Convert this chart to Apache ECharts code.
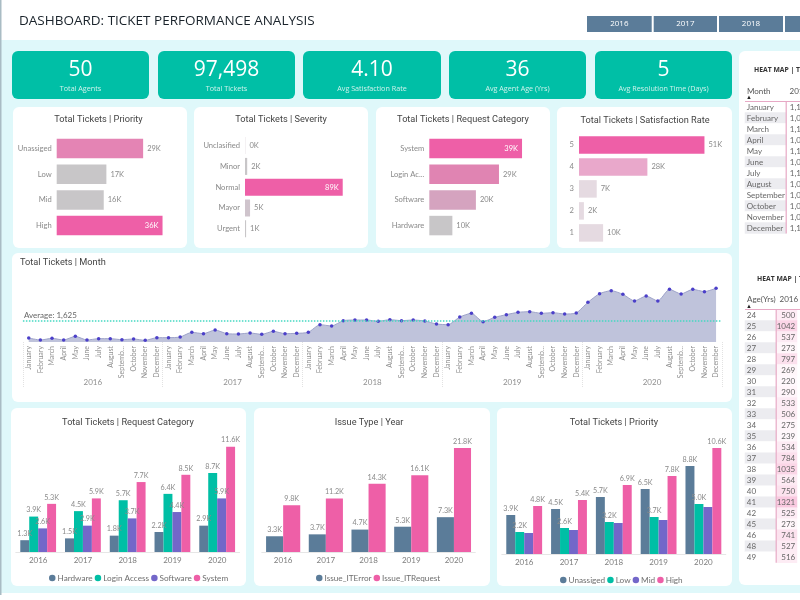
<!DOCTYPE html>
<html>
<head>
<meta charset="utf-8">
<style>html,body{margin:0;padding:0;background:#fff;overflow:hidden}#c{width:800px;height:600px}</style>
<script src="https://cdn.jsdelivr.net/npm/echarts@6/dist/echarts.min.js"></script>
</head>
<body>
<div id="c"></div>
<script>
// ---- data ----
const years = ['2016','2017','2018','2019','2020'];
const kpiValues = ['50','97,498','4.10','36','5'];
const kpiLabels = ['Total Agents','Total Tickets','Avg Satisfaction Rate','Avg Agent Age (Yrs)','Avg Resolution Time (Days)'];

const priorityCats = ['Unassiged','Low','Mid','High'];
const priorityVals = [29.4,16.9,16.0,36.0];
const severityCats = ['Unclasified','Minor','Normal','Mayor','Urgent'];
const severityVals = [0.4,2.0,89.0,4.6,1.0];
const requestCats = ['System','Login Ac...','Software','Hardware'];
const requestVals = [39.0,29.3,19.6,9.7];
const satisfactionCats = ['5','4','3','2','1'];
const satisfactionVals = [51.0,27.8,7.2,2.0,9.8];

const monthNames = ['January','February','March','April','May','June','July','August','Septemb...','October','November','December'];
const monthlyTickets = [
 1087,1023,1076,1023,1140,1023,1066,1066,1034,1055,1013,1097,
 1097,1118,1266,1224,1340,1224,1213,1245,1203,1298,1224,1235,
 1266,1509,1467,1636,1657,1657,1615,1668,1636,1657,1625,1530,
 1509,1752,1868,1604,1741,1826,1900,1921,1868,1889,1847,1879,
 2217,2491,2586,2470,2259,2417,2259,2628,2481,2628,2555,2660];
const averageTickets = 1625;

const reqHardware = [1.3,1.5,1.8,2.2,2.9];
const reqLogin = [3.9,4.5,5.7,6.4,8.7];
const reqSoftware = [2.6,2.9,3.7,4.4,5.9];
const reqSystem = [5.3,5.9,7.7,8.5,11.6];
const issueError = [3.3,3.7,4.7,5.3,7.3];
const issueRequest = [9.8,11.2,14.3,16.1,21.8];
const priUnassigned = [3.9,4.5,5.7,6.5,8.8];
const priLow = [2.2,2.6,3.2,3.7,5.0];
const priMid = [2.1,2.4,3.1,3.4,4.7];
const priHigh = [4.8,5.4,6.9,7.8,10.6];

const heatMonths = ['January','February','March','April','May','June','July','August','September','October','November','December'];
const heatMonthCells = ['1,1','1,0','1,1','1,0','1,1','1,0','1,1','1,0','1,0','1,0','1,0','1,1'];
const heatAges = ['24','25','26','27','28','29','30','31','32','33','34','35','36','37','38','39','40','41','42','45','46','48','49'];
const heatAgeVals = [500,1042,537,273,797,269,220,290,533,506,275,239,534,784,1035,564,750,1321,525,273,741,527,516];

// ---- style ----
const PINK='#EE5FA7', BLUE='#5B7C99', GREEN='#00BFA5', PURPLE='#7367C9', GREY='#C8C6C8';
const TITLE_FONT='Roboto', BODY_FONT='"Open Sans"', SMALL_FONT='Lato';
const priorityColors=['#E484B4',GREY,GREY,PINK];
const severityColors=['#E6E0E4',GREY,PINK,'#CFC4CC',GREY];
const requestColors=[PINK,'#E084B2','#D5A3BF',GREY];
const satisfactionColors=[PINK,'#E9A8CB','#E5DAE1','#E5DAE1','#E5DAE1'];

const grid=[], xAxis=[], yAxis=[], series=[], legend=[], visualMap=[], graphic=[];

function rect(x,y,w,h,fill,r,z){graphic.push({type:'rect',silent:true,z:z||0,shape:{x,y,width:w,height:h,r:r||0},style:{fill}});}
function text(t,x,y,size,fill,o){o=o||{};graphic.push({type:'text',silent:true,z:20,x,y,style:{text:t,fill,textAlign:o.align||'center',textVerticalAlign:'middle',font:(o.weight||'normal')+' '+size+'px '+(o.family||BODY_FONT)}});}
function addAxes(gridOpt,xOpt,yOpt){
  const g=grid.length; grid.push(gridOpt);
  const x=xAxis.length; xAxis.push(Object.assign({gridIndex:g},xOpt));
  const y=yAxis.length; yAxis.push(Object.assign({gridIndex:g},yOpt));
  return {g,x,y};
}

// page
rect(0,0,800,40,'#ffffff');
rect(0,593,800,7,'#ffffff');
rect(0,0,1.5,595,'#A9BCC4',0,1);
text('DASHBOARD: TICKET PERFORMANCE ANALYSIS',19,21,13.5,'#1a232b',{align:'left'});
[[587,64.7,'2016'],[653.7,63.3,'2017'],[719,64,'2018'],[785,20,'']].forEach(b=>{
  rect(b[0],16,b[1],16,BLUE);
  if(b[2]) text(b[2],b[0]+b[1]/2,24,8,'#ffffff');
});

// KPI cards
[[12,137],[158,137],[303,138],[449,137],[595,137]].forEach((c,i)=>{
  rect(c[0],51,c[1],48,'#00BFA6',6);
  text(kpiValues[i],c[0]+c[1]/2,70,21,'#ffffff');
  text(kpiLabels[i],c[0]+c[1]/2,88.5,7.2,'#CFF3EC');
});

// white cards
[[13,107,174,141],[194,107,174,141],[376,107,174,141],[557,107,175,141],[12,253,720,149],[11,408,235,178],[254,408,236,178],[497,408,235,178]].forEach(c=>rect(c[0],c[1],c[2],c[3],'#ffffff',6));
rect(739,51,70,534,'#ffffff',6);

// horizontal bar panels
function hbar(title,tx,ty,cats,vals,colors,left,top,width,height,max,barW,insideTop){
  text(title,tx,ty,9.2,'#444444',{family:TITLE_FONT});
  const a=addAxes({left,top,width,height},{type:'value',min:0,max,show:false},
    {type:'category',inverse:true,data:cats,axisLine:{show:false},axisTick:{show:false},
    axisLabel:{color:'#8a8a8a',fontSize:7.6,fontFamily:SMALL_FONT,margin:5}});
  const top1=Math.max.apply(null,vals);
  series.push({type:'bar',xAxisIndex:a.x,yAxisIndex:a.y,barWidth:barW,
    data:vals.map((v,i)=>({value:v,itemStyle:{color:colors[i]},
      label:(insideTop&&v===top1)?{show:true,position:'insideRight',distance:4,color:'#ffffff',fontSize:7.5,fontFamily:SMALL_FONT,formatter:p=>Math.round(p.value)+'K'}
        :{show:true,position:'right',distance:4,color:'#8a8a8a',fontSize:7.5,fontFamily:SMALL_FONT,formatter:p=>Math.round(p.value)+'K'}}))});
}
hbar('Total Tickets | Priority',98.5,119.5,priorityCats,priorityVals,priorityColors,56.7,135.7,117.6,102.7,40,19.5,true);
hbar('Total Tickets | Severity',281,119.5,severityCats,severityVals,severityColors,245,135.2,109.8,104,100,17,true);
hbar('Total Tickets | Request Category',463,119.5,requestCats,requestVals,requestColors,429.3,135.7,107,102.7,45,19.5,true);
hbar('Total Tickets | Satisfaction Rate',645,121,satisfactionCats,satisfactionVals,satisfactionColors,579,133.9,135.3,110,55,17.5,false);

// monthly area chart
text('Total Tickets | Month',20,263,9.2,'#444444',{family:TITLE_FONT,align:'left'});
(function(){
  const a=addAxes({left:22.9,top:282,width:699,height:60},
    {type:'category',position:'bottom',
    data:years.flatMap(()=>monthNames),
    axisLine:{show:false},axisTick:{show:false},
    axisLabel:{interval:0,rotate:90,color:'#8f8f8f',fontSize:7,fontFamily:SMALL_FONT,margin:4}},
    {type:'value',min:960,max:2860,show:false});
  xAxis.push({gridIndex:a.g,type:'category',position:'bottom',data:years,
    axisLine:{show:false},
    axisTick:{show:true,length:46,lineStyle:{color:'#e2e2e2',type:'dotted',width:1}},
    axisLabel:{color:'#8f8f8f',fontSize:8,fontFamily:SMALL_FONT,margin:36}});
  series.push({type:'line',xAxisIndex:a.x,yAxisIndex:a.y,data:monthlyTickets,smooth:0.2,
    symbol:'circle',symbolSize:3.5,itemStyle:{color:'#4B3FC9'},lineStyle:{color:'#9EA3C9',width:1},
    areaStyle:{color:'#BFC3DB',opacity:1},
    markLine:{silent:true,symbol:'none',data:[{yAxis:averageTickets}],
      lineStyle:{color:'#45D9C2',type:'dotted',width:1.5},
      label:{position:'insideStartTop',distance:[1,2],formatter:'Average: 1,625',color:'#666666',fontSize:8,fontFamily:SMALL_FONT}}});
})();

// grouped column panels
function columns(title,tx,left,width,top,bottomY,max,names,arrays,colors,legendLeft,legendTop,hideLabels){
  text(title,tx,423,9.2,'#444444',{family:TITLE_FONT});
  const a=addAxes({left,top,width,height:bottomY-top},
    {type:'category',data:years,axisLine:{lineStyle:{color:'#e6e6e6'}},axisTick:{show:false},
    splitLine:{show:false},
    axisLabel:{color:'#7d7d7d',fontSize:8,fontFamily:SMALL_FONT,margin:4}},
    {type:'value',min:0,max,show:false});
  names.forEach((n,i)=>series.push({type:'bar',name:n,xAxisIndex:a.x,yAxisIndex:a.y,data:arrays[i],
    barGap:0,barCategoryGap:'20%',itemStyle:{color:colors[i]},
    label:{show:!(hideLabels&&hideLabels[i]),position:'top',distance:3,color:'#8a8a8a',fontSize:7.2,fontFamily:SMALL_FONT,formatter:p=>p.value.toFixed(1)+'K'}}));
  legend.push({left:legendLeft,top:legendTop,data:names,icon:'circle',itemWidth:6.5,itemHeight:6.5,itemGap:2,
    textStyle:{color:'#6f6f6f',fontSize:8.2,fontFamily:SMALL_FONT,padding:[0,0,0,-3]},selectedMode:false});
}
columns('Total Tickets | Request Category',128,15.8,223.75,443,552,12,
  ['Hardware','Login Access','Software','System'],[reqHardware,reqLogin,reqSoftware,reqSystem],[BLUE,GREEN,PURPLE,PINK],44,569);
columns('Issue Type | Year',369,261.8,213.5,437.5,552,24,
  ['Issue_ITError','Issue_ITRequest'],[issueError,issueRequest],[BLUE,PINK],311,569);
columns('Total Tickets | Priority',614,501.8,224,434,554,12,
  ['Unassiged','Low','Mid','High'],[priUnassigned,priLow,priMid,priHigh],[BLUE,GREEN,PURPLE,PINK],555,571,[false,false,true,false]);

// heat tables
function heatTable(title,titleX,titleY,header,valueHeader,headerY,rows,cellLabels,cellVals,top,rowH,splitX,valW){
  text(title,titleX,titleY,6.8,'#333333',{align:'left',weight:'bold'});
  text(header,747,headerY,8,'#555555',{align:'left',family:SMALL_FONT});
  text(valueHeader,splitX+3.5,headerY,8,'#555555',{align:'left',family:SMALL_FONT});
  text('\u25B2',749,headerY+6.5,6,'#222222',{align:'center'});
  const h=rowH*rows.length;
  // label column
  let a=addAxes({left:745,top,width:splitX-745,height:h},
    {type:'category',data:[header],show:false},
    {type:'category',data:rows,inverse:true,show:false});
  series.push({type:'heatmap',xAxisIndex:a.x,yAxisIndex:a.y,
    label:{show:true,position:'insideLeft',distance:2,color:'#666666',fontSize:8,fontFamily:SMALL_FONT,formatter:p=>p.data.name},
    data:rows.map((r,i)=>({name:r,value:[0,i,1],itemStyle:{color:i%2?'#ECECF0':'#ffffff'}}))});
  // value column
  a=addAxes({left:splitX+1,top,width:valW,height:h},
    {type:'category',data:[valueHeader],show:false},
    {type:'category',data:rows,inverse:true,show:false});
  if(cellVals){
    const si=series.length;
    series.push({type:'heatmap',xAxisIndex:a.x,yAxisIndex:a.y,
      label:{show:true,position:'insideRight',distance:2,color:'#666666',fontSize:8,fontFamily:SMALL_FONT,formatter:p=>String(p.data[2])},
      data:rows.map((r,i)=>[0,i,cellVals[i]])});
    visualMap.push({show:false,seriesIndex:si,dimension:2,min:200,max:1400,inRange:{color:['#FFF9FC','#F9C6DE']}});
  }else{
    series.push({type:'heatmap',xAxisIndex:a.x,yAxisIndex:a.y,
      label:{show:true,position:'insideLeft',distance:3,color:'#666666',fontSize:8,fontFamily:SMALL_FONT,formatter:p=>p.data.name},
      data:cellLabels.map((c,i)=>({name:c,value:[0,i,1],itemStyle:{color:'#ffffff'}}))});
  }
  rect(745,top-0.6,55,1.2,'#E7A9C5',0,15);
  rect(splitX-0.4,top,1.2,h,'#E7A9C5',0,15);
}
heatTable('HEAT MAP | Ti',754,70,'Month','201',91,heatMonths,heatMonthCells,null,101.5,11,786,13);
heatTable('HEAT MAP | T',757,279,'Age(Yrs)','2016',299.7,heatAges,null,heatAgeVals,309.5,11.01,776,20);

const chart=echarts.init(document.getElementById('c'));
chart.setOption({
  animation:false,
  backgroundColor:'#DFF8FA',
  tooltip:{show:false},
  graphic:{elements:graphic},
  grid,xAxis,yAxis,series,legend,visualMap
});
</script>
</body>
</html>
